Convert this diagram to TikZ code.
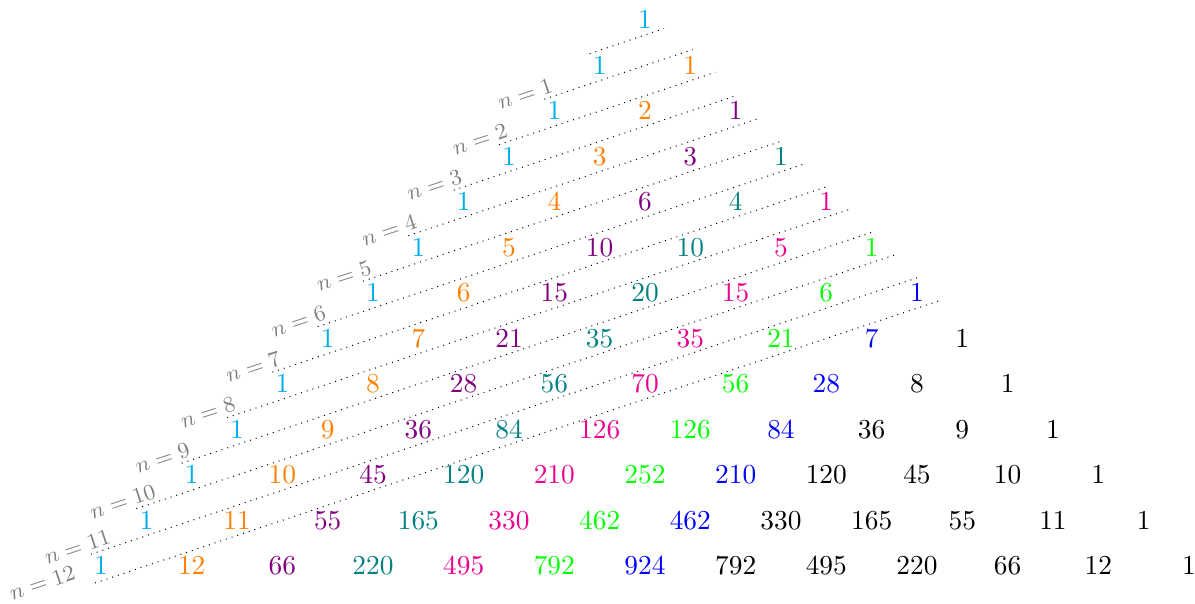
\documentclass[tikz,border=0pt]{standalone}
\usetikzlibrary{calc}
\definecolor{c0}{RGB}{0,174,239}
\definecolor{c1}{RGB}{255,128,0}
\definecolor{c2}{RGB}{128,0,128}
\definecolor{c3}{RGB}{0,128,128}
\definecolor{c4}{RGB}{236,0,140}
\definecolor{c5}{RGB}{0,255,0}
\definecolor{c6}{RGB}{0,0,255}
\colorlet{c7}{black}
\colorlet{c8}{black}
\colorlet{c9}{black}
\colorlet{c10}{black}
\colorlet{c11}{black}
\colorlet{c12}{black}
\begin{document}
\begin{tikzpicture}[x=0.4pt,y=-0.4pt,
  num/.style={font=\fontsize{11}{13}\selectfont, inner sep=0pt},
  sep/.style={dotted, line width=0.4pt},
  lab/.style={font=\fontsize{9.5}{11}\selectfont, text=black!50, rotate=18.43, anchor=south west, inner sep=0pt}]
\useasboundingbox (0,0) rectangle (1195,604);
\foreach \row [count=\r from 0] in {{1},{1,1},{1,2,1},{1,3,3,1},{1,4,6,4,1},{1,5,10,10,5,1},{1,6,15,20,15,6,1},{1,7,21,35,35,21,7,1},{1,8,28,56,70,56,28,8,1},{1,9,36,84,126,126,84,36,9,1},{1,10,45,120,210,252,210,120,45,10,1},{1,11,55,165,330,462,462,330,165,55,11,1},{1,12,66,220,495,792,924,792,495,220,66,12,1}}{
  \foreach \v [count=\k from 0] in \row {
    \node[num, text=c\k] (p\r-\k) at ({645+45.33*(2*\k-\r)}, {20+45.5*\r}) {$\v$};
  }
}
\coordinate (s0) at ($(p1-0)+(-10,-11.8)$);
\coordinate (e0) at ($(p0-0)+(19,8.5)$);
\draw[sep] (s0) -- (e0);
\foreach \n in {1,...,11} {
  \pgfmathtruncatemacro\m{\n+1}
  \coordinate (s\n) at ($(p\m-0)+(-10,-11.8)$);
  \coordinate (e\n) at ($(p\n-0)+({\n*68+25},{-\n*22.75+6.8})$);
  \draw[sep] (s\n) -- (e\n);
}
\coordinate (s12) at ($(p12-0)+(-6,17)$);
\coordinate (e12) at ($(p12-0)+({12*68+25},{-12*22.75+6.8})$);
\draw[sep] (s12) -- (e12);
\foreach \n in {1,...,11} {
  \node[lab] (l\n) at ($(s\n)+(-44,11)$) {$n=\n$};
}
\node[lab] (l12) at (12,601) {$n=12$};
\end{tikzpicture}
\end{document}
